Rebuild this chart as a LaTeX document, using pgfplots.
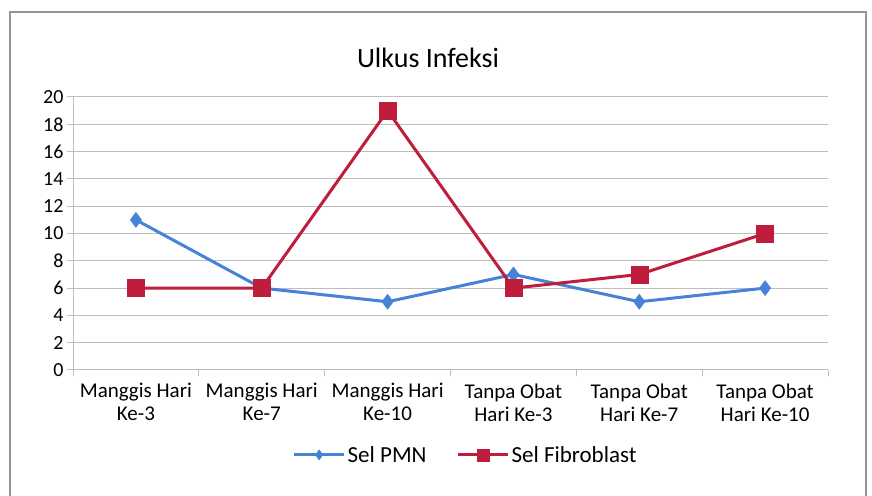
\documentclass[border=0pt]{standalone}
\usepackage{pgfplots}
\pgfplotsset{compat=1.18}
\usepackage{fontspec}
\setmainfont{Carlito}
\definecolor{pmn}{RGB}{70,130,215}
\definecolor{fib}{RGB}{190,30,60}
\definecolor{gridc}{RGB}{190,190,190}
\definecolor{framec}{RGB}{150,150,150}
\begin{document}
\begin{tikzpicture}[x=1pt,y=1pt]
\useasboundingbox (0,0) rectangle (872,495);
\fill[white] (0,0) rectangle (872,495);
\draw[framec,line width=1.5pt] (10,-20) -- (10,483) -- (866,483) -- (866,-20);
\node[font=\fontsize{28}{32}\selectfont] at (428,437) {Ulkus Infeksi};
\begin{axis}[
  at={(73pt,125pt)}, anchor=south west,
  scale only axis, width=755pt, height=273pt,
  xmin=-0.5, xmax=5.5, ymin=0, ymax=20,
  ytick={0,2,...,20},
  xtick={0,...,5},
  xticklabels={{Manggis Hari\\Ke-3},{Manggis Hari\\Ke-7},{Manggis Hari\\Ke-10},{Tanpa Obat\\Hari Ke-3},{Tanpa Obat\\Hari Ke-7},{Tanpa Obat\\Hari Ke-10}},
  xticklabel style={align=center, font=\fontsize{21}{23}\selectfont, yshift=-4pt},
  yticklabel style={font=\fontsize{20}{20}\selectfont},
  /pgf/number format/assume math mode=true,
  major x tick style={draw=none},
  minor xtick={-0.5,0.5,...,5.5},
  minor x tick style={gridc, line width=1pt},
  minor tick length=6pt,
  major tick length=6pt,
  y tick style={gridc, line width=1pt},
  tick align=outside,
  axis lines*=left,
  axis line style={gridc, line width=1pt},
  ymajorgrids, grid style={gridc, line width=1pt},
  legend columns=2,
  legend style={at={(0.52,-0.311)}, anchor=center, draw=none, fill=none,
    font=\fontsize{23}{24}\selectfont, /tikz/every even column/.append style={column sep=28pt}},
  legend image code/.code={
    \draw[#1] (0pt,0pt) -- (25pt,0pt);
    \draw[#1,mark repeat=2,mark phase=2] plot coordinates {(0pt,0pt) (25pt,0pt) (50pt,0pt)};
    \draw[#1] (25pt,0pt) -- (50pt,0pt);
  },
]
\addplot[pmn, line width=3pt, mark=diamond*, mark size=7.5pt, mark options={fill=pmn, line width=0.5pt},
  legend image post style={mark size=5pt}]
  coordinates {(0,11) (1,6) (2,5) (3,7) (4,5) (5,6)};
\addlegendentry{Sel PMN}
\addplot[fib, line width=3pt, mark=square*, mark size=8.5pt, mark options={fill=fib, line width=0.5pt},
  legend image post style={mark size=6pt}]
  coordinates {(0,6) (1,6) (2,19) (3,6) (4,7) (5,10)};
\addlegendentry{Sel Fibroblast}
\end{axis}
\end{tikzpicture}
\end{document}
